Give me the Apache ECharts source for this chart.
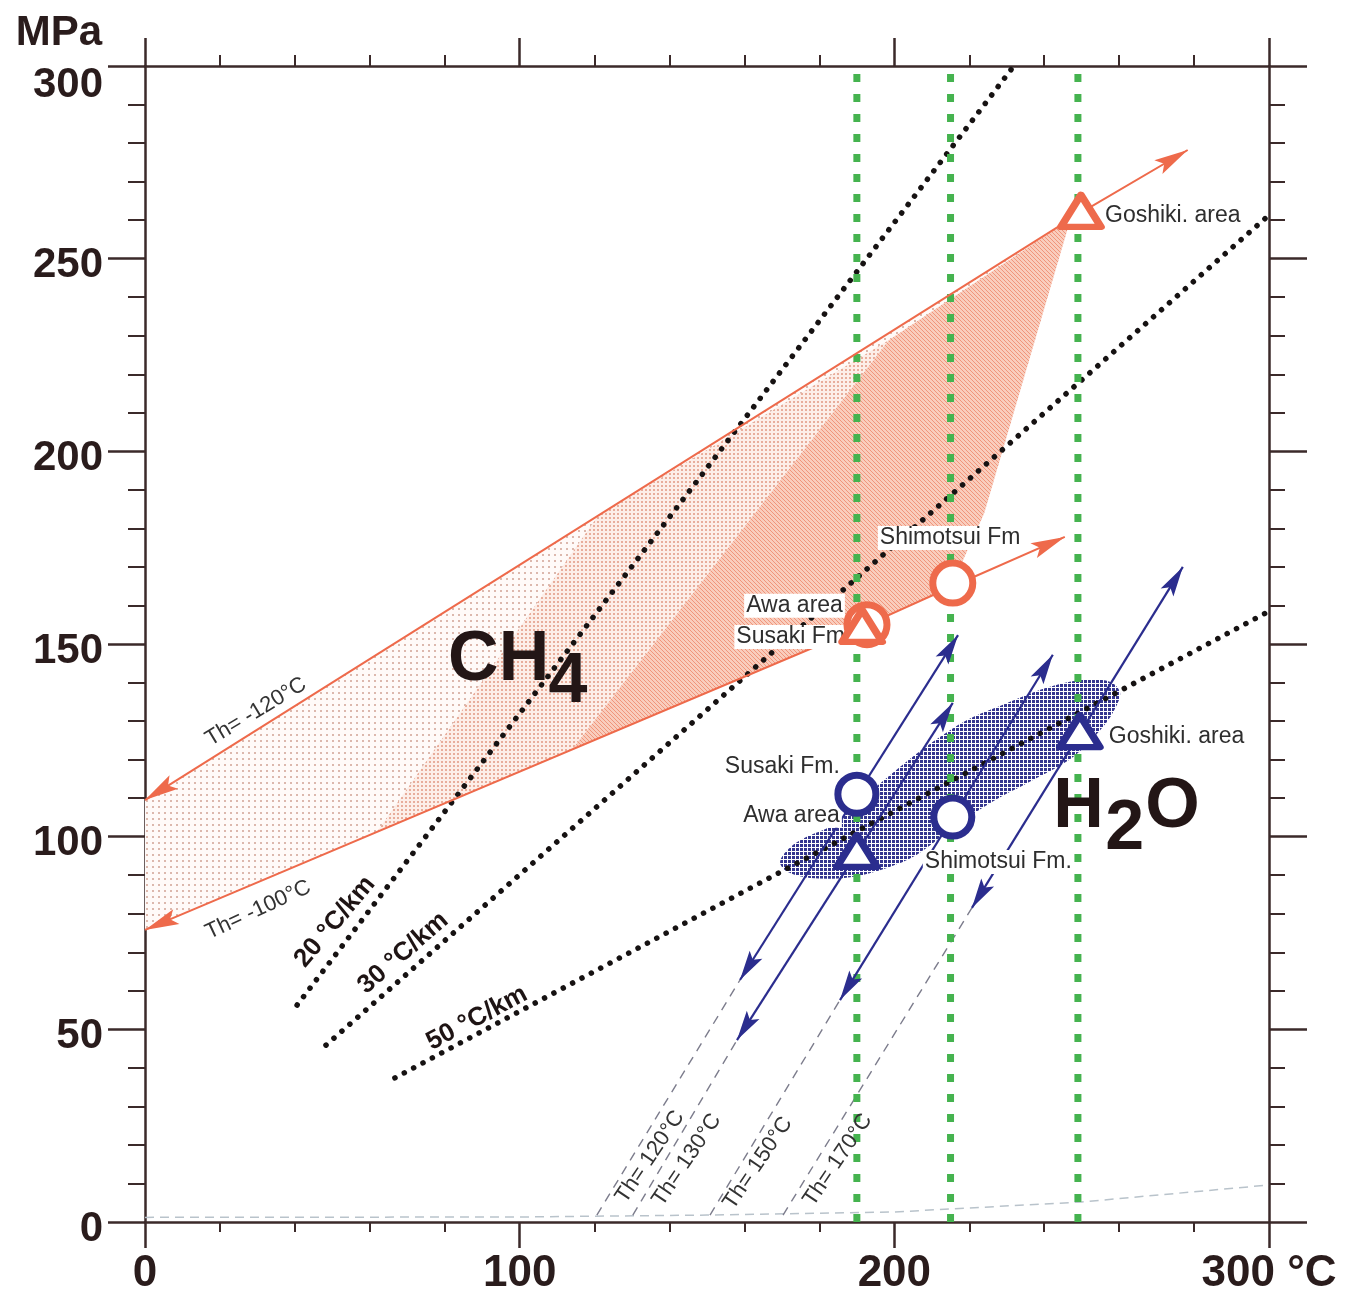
<!DOCTYPE html>
<html><head><meta charset="utf-8">
<script src="https://cdn.jsdelivr.net/npm/echarts@6/dist/echarts.min.js"></script>
<style>html,body{margin:0;padding:0;background:#fff}#chart{width:1355px;height:1296px}</style>
</head><body><div id="chart"></div>
<script>
// ---------------- data (°C, MPa) ----------------
const xTickLabels = {0:'0',100:'100',200:'200',300:'300 °C'};
const yTickLabels = {0:'0',50:'50',100:'100',150:'150',200:'200',250:'250',300:'300'};

// CH4 isochores (Th = -120 °C and Th = -100 °C)
const ch4Upper = [[0,109.5],[249,261.5],[278.3,278.2]];
const ch4Lower = [[0,75.8],[191.4,154.4],[215.1,164.8],[245.5,177.8]];
// CH4 shaded field (light / medium / dense parts)
const ch4Region = [[0,75.8],[0,109.5],[247,260.2],[224,184],[215.1,164.8],[191.4,154.4]];
const ch4Mid    = [[61.9,101.2],[120.9,183.3],[198.6,228.9],[114,122.6]];
const ch4Dense  = [[114,122.6],[198.6,228.9],[247,260.2],[224,184],[215.1,164.8],[191.4,154.4]];

// H2O field outline
const h2oField = [[169.5,93.4],[172.1,97.1],[176.1,99.7],[183.6,103.1],[192.7,110.9],[201.5,118.1],
  [210.3,124.6],[219.4,130.3],[228.2,133.9],[237.5,137.6],[244.2,139.6],[250.9,140.7],[257.5,140.2],
  [260.2,137.6],[259.4,134.2],[255.7,128.5],[247.7,120.7],[237.0,114.7],[225.5,108.7],[214.8,101.7],
  [206.0,95.3],[198.0,91.9],[188.2,89.5],[177.5,89.3],[171.6,90.8]];

// H2O isochores: [start on L-V curve, lower arrow tip, upper arrow tip]
const h2oTh120 = [[120.6,1.8],[158.8,62.8],[217.0,152.3]];
const h2oTh130 = [[130.2,1.8],[158.0,47.2],[215.6,134.7]];
const h2oTh150 = [[150.8,1.8],[185.5,57.6],[242.3,147.2]];
const h2oTh170 = [[170.3,1.8],[220.7,81.5],[277.0,170.0]];

// liquid-vapour curve of water
const lvCurve = [[0,1.2],[100,1.3],[150,1.8],[200,2.6],[250,5.2],[300,9.6]];

// geotherms
const geo20 = [[40.6,56.3],[231.9,300]];
const geo30 = [[48.3,45.9],[300,261.3]];
const geo50 = [[66.7,37.4],[300,158.5]];

// temperature lines of the three areas
const areaTemps = [190, 215, 249];
const areaTempRange = [0, 298];

// markers
const ch4Circles   = [[192.7,155.0],[215.6,165.8]];   // Susaki Fm, Shimotsui Fm
const ch4Triangles = [[191.4,154.7],[249.8,262.4]];   // Awa area, Goshiki area
const h2oCircles   = [[190.0,111.0],[215.6,105.1]];   // Susaki Fm., Shimotsui Fm.
const h2oTriangles = [[190.0,96.3],[249.5,127.4]];    // Awa area, Goshiki area

// text
const ch4SiteLabels = [['Goshiki. area',255.7,261.1],['Shimotsui Fm',195.6,177.5],['Awa area',186.8,159.9],['Susaki Fm',157.3,151.8]];
const ch4SiteAlign  = ['left','left','right','left'];
const h2oSiteLabels = [['Susaki Fm.',186.0,118.1],['Awa area',186.0,105.4],['Shimotsui Fm.',207.6,93.4],['Goshiki. area',256.7,125.9]];
const h2oSiteAlign  = ['right','right','left','left'];
const ch4ThLabels = [['Th= -120°C',29.6,132.4],['Th= -100°C',30.2,81.0]];
const ch4ThRotate = [31, 25];
const h2oThLabels = [['Th= 120°C',134.8,16.9],['Th= 130°C',144.6,16.1],['Th= 150°C',163.6,15.3],['Th= 170°C',184.9,16.1]];
const geoLabels = [['20 °C/km',50.7,77.9],['30 °C/km',68.9,69.8],['50 °C/km',88.6,52.9]];
const geoRotate = [50, 41, 28];
const bigLeft   = [['CH',80.9,145.6],['H',242.4,107.4],['O',267.0,107.4]];
const bigCenter = [['4',112.9,139.9],['2',261.5,101.7]];

// ---------------- style ----------------
const FONT = 'Liberation Sans, Arial, Helvetica, sans-serif';
const AXIS = '#3b2a2a';
const TXT = '#2a1c1c';
const ORANGE = '#ee6a4b';
const BLUE = '#2b2d8e';
const GREEN = '#45b34f';

function pattern(size, bg, cells) {
  const c = document.createElement('canvas');
  c.width = c.height = size;
  const g = c.getContext('2d');
  g.fillStyle = bg; g.fillRect(0, 0, size, size);
  cells.forEach(([x, y, w, h, col]) => { g.fillStyle = col; g.fillRect(x, y, w, h); });
  return { image: c, repeat: 'repeat' };
}
const lightFill = pattern(6, '#fffaf8', [[2,2,2,2,'#dcb8ad']]);
const midFill   = pattern(4, '#fdeee8', [[1,1,2,2,'#e8ad9b']]);
const denseFill = pattern(4, '#f9cdbd', [[0,0,1,1,'#f0957b'],[1,1,1,1,'#f0957b'],[2,2,1,1,'#f0957b'],[3,3,1,1,'#f0957b']]);
const blueFill  = pattern(4, '#ffffff', [[0,0,3,3,'#34358f']]);

function polySeries(pts, fill, z, smooth) {
  return {
    type: 'custom', z, silent: true, clip: false, data: pts, encode: { x: 0, y: 1 },
    renderItem(params, api) {
      if (params.dataIndex !== 0) return null;
      return { type: 'polygon', shape: { points: pts.map(p => api.coord(p)), smooth: smooth || 0 },
               style: { fill, stroke: null } };
    }
  };
}

function lineSeries(pts, o) {
  return {
    type: 'custom', z: o.z, silent: true, clip: false, data: pts, encode: { x: 0, y: 1 },
    renderItem(params, api) {
      if (params.dataIndex !== 0) return null;
      const px = pts.map(p => api.coord(p));
      const children = [{ type: 'polyline', shape: { points: px },
        style: { stroke: o.color, lineWidth: o.width, lineDash: o.dash || null, lineCap: o.cap || 'butt', fill: null } }];
      function head(tip, from) {
        const dx = tip[0] - from[0], dy = tip[1] - from[1];
        const L = Math.hypot(dx, dy), ux = dx / L, uy = dy / L, nx = -uy, ny = ux;
        const hl = o.headLen, hw = o.headWidth / 2;
        const bx = tip[0] - ux * hl, by = tip[1] - uy * hl;
        const mx = tip[0] - ux * hl * 0.8, my = tip[1] - uy * hl * 0.8;
        return { type: 'polygon', shape: { points: [tip, [bx + nx * hw, by + ny * hw], [mx, my], [bx - nx * hw, by - ny * hw]] },
                 style: { fill: o.color, stroke: null } };
      }
      if (o.start) children.push(head(px[0], px[1]));
      if (o.end) children.push(head(px[px.length - 1], px[px.length - 2]));
      return { type: 'group', children };
    }
  };
}

function textSeries(items, labelStyle, z, perItem) {
  return {
    type: 'scatter', z, silent: true, symbol: 'circle', symbolSize: 1,
    itemStyle: { color: 'rgba(0,0,0,0)', opacity: 1 },
    emphasis: { disabled: true },
    data: items.map((it, i) => {
      const d = { value: [it[1], it[2]], name: it[0] };
      if (perItem) d.label = perItem(i);
      return d;
    }),
    label: Object.assign({ show: true, position: 'inside', formatter: p => p.name, fontFamily: FONT, opacity: 1 }, labelStyle)
  };
}

function markerSeries(pts, symbol, size, color, z) {
  return {
    type: 'scatter', z, silent: true, data: pts, symbol, symbolSize: size,
    itemStyle: { color: '#ffffff', borderColor: color, borderWidth: 7, borderJoin: 'round', opacity: 1 },
    emphasis: { disabled: true }
  };
}

const series = [];
// fields
series.push(polySeries(ch4Region, lightFill, 1));
series.push(polySeries(ch4Mid, midFill, 2));
series.push(polySeries(ch4Dense, denseFill, 3));
series.push(polySeries(h2oField, blueFill, 3, 0.35));
// L-V curve
series.push(lineSeries(lvCurve, { z: 4, color: '#b9c3cb', width: 1.5, dash: [9, 6] }));
// dashed H2O isochores down to the L-V curve
[h2oTh120, h2oTh130, h2oTh150, h2oTh170].forEach(a => {
  series.push(lineSeries([a[0], a[1]], { z: 4, color: '#7c7c8c', width: 1.4, dash: [9, 7] }));
});
// geotherms
[geo20, geo30, geo50].forEach(g => series.push(lineSeries(g, { z: 5, color: '#161212', width: 5.5, dash: [0.1, 10.5], cap: 'round' })));
// area temperature lines
areaTemps.forEach(t => series.push(lineSeries([[t, areaTempRange[0]], [t, areaTempRange[1]]], { z: 6, color: GREEN, width: 7, dash: [8, 12] })));
// CH4 isochores
series.push(lineSeries(ch4Upper, { z: 7, color: ORANGE, width: 2, start: true, end: true, headLen: 34, headWidth: 16 }));
series.push(lineSeries(ch4Lower, { z: 7, color: ORANGE, width: 2, start: true, end: true, headLen: 34, headWidth: 16 }));
// H2O isochores (solid part)
[h2oTh120, h2oTh130, h2oTh150, h2oTh170].forEach(a => {
  series.push(lineSeries([a[1], a[2]], { z: 7, color: BLUE, width: 2.2, start: true, end: true, headLen: 30, headWidth: 15 }));
});
// text
const siteStyle = { fontSize: 23, color: '#2e2e2e', backgroundColor: '#ffffff', padding: [1, 2, 0, 2], verticalAlign: 'middle' };
series.push(textSeries(ch4SiteLabels, siteStyle, 8, i => ({ align: ch4SiteAlign[i] })));
series.push(textSeries(h2oSiteLabels, siteStyle, 8, i => ({ align: h2oSiteAlign[i] })));
series.push(textSeries(ch4ThLabels, { fontSize: 22, color: '#333333', align: 'center', verticalAlign: 'middle' }, 8, i => ({ rotate: ch4ThRotate[i] })));
series.push(textSeries(h2oThLabels, { fontSize: 22, color: '#333333', align: 'center', verticalAlign: 'middle', rotate: 56 }, 8));
series.push(textSeries(geoLabels, { fontSize: 26, fontWeight: 'bold', color: '#1e1414', align: 'center', verticalAlign: 'middle' }, 8, i => ({ rotate: geoRotate[i] })));
series.push(textSeries(bigLeft, { fontSize: 70, fontWeight: 'bold', color: '#231616', align: 'left', verticalAlign: 'middle' }, 9));
series.push(textSeries(bigCenter, { fontSize: 70, fontWeight: 'bold', color: '#231616', align: 'center', verticalAlign: 'middle' }, 9));
// markers
series.push(markerSeries(ch4Circles, 'circle', 40, ORANGE, 10));
series.push(markerSeries(ch4Triangles, 'triangle', [40, 32], ORANGE, 11));
series.push(markerSeries(h2oCircles, 'circle', 38, BLUE, 10));
series.push(markerSeries(h2oTriangles, 'triangle', [40, 32], BLUE, 11));

const tickLine = { color: AXIS, width: 2.5 };
function xAx(pos, showLabel, majorLen, minorLen) {
  return {
    type: 'value', position: pos, min: 0, max: 300, interval: 100,
    axisLine: { show: true, onZero: false, lineStyle: tickLine },
    axisTick: { show: true, inside: false, length: majorLen, lineStyle: tickLine },
    minorTick: { show: true, splitNumber: 5, length: minorLen, lineStyle: { color: AXIS, width: 2 } },
    splitLine: { show: false }, minorSplitLine: { show: false },
    axisLabel: { show: showLabel, margin: 30, fontSize: 44, fontWeight: 'bold', fontFamily: FONT, color: TXT,
                 formatter: v => xTickLabels[v] }
  };
}
function yAx(pos, showLabel, majorLen, minorLen) {
  const ax = {
    type: 'value', position: pos, min: 0, max: 300, interval: 50,
    axisLine: { show: true, onZero: false, lineStyle: tickLine },
    axisTick: { show: true, inside: false, length: majorLen, lineStyle: tickLine },
    minorTick: { show: true, splitNumber: 5, length: minorLen, lineStyle: { color: AXIS, width: 2 } },
    splitLine: { show: false }, minorSplitLine: { show: false },
    axisLabel: { show: showLabel, margin: 42, fontSize: 42, fontWeight: 'bold', fontFamily: FONT, color: TXT,
                 padding: [14, 0, 0, 0],
                 formatter: v => v === 300 ? '{t|' + yTickLabels[v] + '}' : yTickLabels[v],
                 rich: { t: { fontSize: 42, fontWeight: 'bold', fontFamily: FONT, color: TXT, padding: [24, 0, 0, 0] } } }
  };
  if (showLabel) {
    ax.name = 'MPa';
    ax.nameLocation = 'end';
    ax.nameGap = 12;
    ax.nameTextStyle = { fontSize: 42, fontWeight: 'bold', fontFamily: FONT, color: TXT, align: 'right',
                         verticalAlign: 'bottom', padding: [0, 43, 0, 0] };
  }
  return ax;
}

const chart = echarts.init(document.getElementById('chart'), null, { renderer: 'canvas' });
chart.setOption({
  animation: false,
  backgroundColor: '#ffffff',
  grid: { left: 145, right: 86, top: 66, bottom: 74, containLabel: false },
  xAxis: [xAx('bottom', true, 26, 10), xAx('top', false, 28, 11)],
  yAxis: [yAx('left', true, 37, 17), yAx('right', false, 38, 16)],
  tooltip: { show: false },
  series
});
</script></body></html>
